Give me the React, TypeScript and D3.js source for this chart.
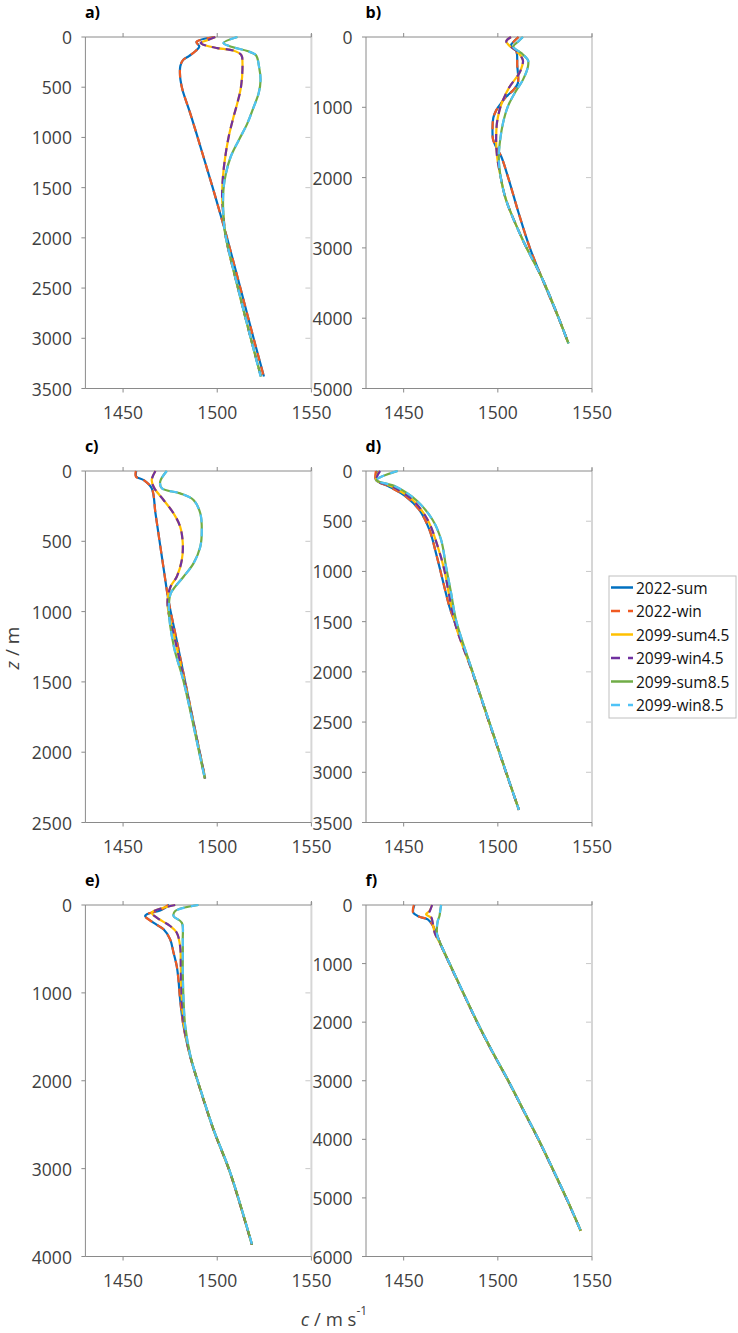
import React from 'react';
import * as d3 from 'd3';

type Pt = [number, number]; // [depth z (m), sound speed c (m/s)]

// ---------- series names ----------
const seriesNames = ['2022-sum', '2022-win', '2099-sum4.5', '2099-win4.5', '2099-sum8.5', '2099-win8.5'];
const panelLabels = ['a)', 'b)', 'c)', 'd)', 'e)', 'f)'];
const xDomain = [1430, 1550];
const xTickValues = [1450, 1500, 1550];
const depthMax = [3500, 5000, 2500, 3500, 4000, 6000];
const depthStep = [500, 1000, 500, 500, 1000, 1000];

// ---------- panel a ----------
const a22s: Pt[] = [[0,1498.5],[50,1489],[95,1490.5],[140,1488.5],[190,1485],[230,1481.8],[290,1480.4],[360,1480.2],[430,1480.5],[530,1481.6],[750,1485.5],[1000,1489.6],[1250,1493.6],[1500,1497.6],[1800,1502.2],[2000,1505.2],[2500,1512.3],[3000,1519.3],[3380,1524.8]];
const a22w: Pt[] = [[0,1498.5],[50,1489],[95,1490.5],[140,1488.5],[190,1485],[230,1481.8],[290,1480.4],[360,1480.2],[430,1480.5],[530,1481.6],[750,1485.5],[1000,1489.6],[1250,1493.6],[1500,1497.6],[1800,1502.2],[2000,1505.2],[2500,1512.3],[3000,1519.3],[3380,1524.7]];
const a45s: Pt[] = [[0,1499],[30,1495],[60,1491.2],[85,1494],[110,1500],[135,1508.5],[180,1512.8],[260,1513.4],[500,1512.6],[650,1510.8],[800,1508.6],[1000,1506],[1200,1504.2],[1400,1503],[1600,1502.6],[1800,1503.4],[2000,1504.6],[2500,1511],[3000,1517.8],[3380,1523.2]];
const a45w: Pt[] = [[0,1499],[30,1495],[60,1491.2],[85,1494],[110,1500],[135,1508.5],[180,1512.8],[260,1513.4],[500,1512.6],[650,1510.8],[800,1508.6],[1000,1506],[1200,1504.2],[1400,1503],[1600,1502.6],[1800,1503.4],[2000,1504.6],[2500,1511],[3000,1517.8],[3380,1523.2]];
const a85s: Pt[] = [[0,1510.7],[60,1503.3],[100,1508],[140,1516],[180,1520.5],[295,1522.2],[430,1523],[560,1522],[690,1519.5],[860,1516],[1025,1511.5],[1190,1507.2],[1360,1504.6],[1520,1503.3],[1750,1503.2],[1955,1504.2],[2500,1511],[3000,1517.8],[3380,1523.2]];
const a85w: Pt[] = [[0,1510.7],[60,1503.3],[100,1508],[140,1516],[180,1520.5],[295,1522.2],[430,1523],[560,1522],[690,1519.5],[860,1516],[1025,1511.5],[1190,1507.2],[1360,1504.6],[1520,1503.3],[1750,1503.2],[1955,1504.2],[2500,1511],[3000,1517.8],[3380,1523]];

// ---------- panel b ----------
const b22s: Pt[] = [[0,1511],[50,1509],[120,1507],[200,1509.8],[400,1510.3],[660,1510.6],[760,1508],[850,1504.4],[950,1501.5],[1040,1499.2],[1150,1497.6],[1280,1497.2],[1450,1497.4],[1560,1499],[1700,1501.8],[2000,1505.5],[2500,1511],[3000,1517],[3500,1524.5],[4000,1532.3],[4359,1537.5]];
const b22w: Pt[] = [[0,1511],[50,1509],[120,1507],[200,1509.8],[400,1510.3],[660,1510.6],[760,1508],[850,1504.4],[950,1501.5],[1040,1499.2],[1150,1497.6],[1280,1497.2],[1450,1497.4],[1560,1499],[1700,1501.8],[2000,1505.5],[2500,1511],[3000,1517],[3500,1524.5],[4000,1532.3],[4359,1537.5]];
const b45s: Pt[] = [[0,1507],[60,1504.5],[120,1506],[200,1510],[330,1513.3],[420,1512.8],[520,1511.3],[710,1506.2],[900,1502.7],[1040,1500.9],[1230,1499.5],[1470,1499.1],[1700,1499.6],[2030,1501.8],[2320,1504.4],[2890,1513.3],[3460,1524],[4030,1532.8],[4359,1537.5]];
const b45w: Pt[] = [[0,1507],[60,1504.5],[120,1506],[200,1510],[330,1513.3],[420,1512.8],[520,1511.3],[710,1506.2],[900,1502.7],[1040,1500.9],[1230,1499.5],[1470,1499.1],[1700,1499.6],[2030,1501.8],[2320,1504.4],[2890,1513.3],[3460,1524],[4030,1532.8],[4359,1537.5]];
const b85s: Pt[] = [[0,1513.3],[60,1511],[140,1508.2],[230,1512.5],[330,1516],[420,1516],[610,1513.3],[800,1508.9],[990,1505.3],[1230,1502.7],[1470,1501.2],[1700,1500.5],[1940,1501.2],[2320,1504.4],[2890,1513.3],[3460,1524],[4030,1532.8],[4359,1537.5]];
const b85w: Pt[] = [[0,1513.3],[60,1511],[140,1508.2],[230,1512.5],[330,1516],[420,1516],[610,1513.3],[800,1508.9],[990,1505.3],[1230,1502.7],[1470,1501.2],[1700,1500.5],[1940,1501.2],[2320,1504.4],[2890,1513.3],[3460,1524],[4030,1532.8],[4359,1537.5]];

// ---------- panel c ----------
const c22s: Pt[] = [[0,1457],[40,1457],[65,1461],[123,1465.2],[300,1467.2],[500,1469.4],[700,1471.6],[918,1474.1],[1200,1478.4],[1500,1483],[1800,1487.6],[2000,1490.7],[2187,1493.6]];
const c22w: Pt[] = [[0,1456.8],[40,1456.8],[65,1461],[123,1465.2],[300,1467.2],[500,1469.4],[700,1471.6],[918,1474.1],[1200,1478.4],[1500,1483],[1800,1487.6],[2000,1490.7],[2187,1493.6]];
const c45s: Pt[] = [[0,1467.2],[64,1465.2],[120,1466.5],[206,1471.5],[301,1476.8],[396,1480.3],[515,1481.7],[633,1481.2],[752,1478.5],[823,1475.2],[918,1473.6],[1013,1474.2],[1200,1477.6],[1500,1482.6],[2000,1490.6],[2187,1493.5]];
const c45w: Pt[] = [[0,1467.2],[64,1465.2],[120,1466.5],[206,1471.5],[301,1476.8],[396,1480.3],[515,1481.7],[633,1481.2],[752,1478.5],[823,1475.2],[918,1473.6],[1013,1474.2],[1200,1477.6],[1500,1482.6],[2000,1490.6],[2187,1493.5]];
const c85s: Pt[] = [[0,1473.2],[76,1469.7],[123,1470.6],[159,1480.3],[206,1487.4],[301,1491],[420,1491.8],[539,1491],[657,1487.4],[752,1482.1],[823,1477.7],[871,1475.3],[989,1474.3],[1250,1477],[1500,1482.2],[2000,1490.4],[2187,1493.4]];
const c85w: Pt[] = [[0,1473.2],[76,1469.7],[123,1470.6],[159,1480.3],[206,1487.4],[301,1491],[420,1491.8],[539,1491],[657,1487.4],[752,1482.1],[823,1477.7],[871,1475.3],[989,1474.3],[1250,1477],[1500,1482.2],[2000,1490.4],[2187,1493.4]];

// ---------- panel d ----------
const d22s: Pt[] = [[0,1436],[90,1435.3],[156,1442.4],[255,1451.2],[388,1458.3],[587,1463.7],[820,1467.2],[1085,1470.7],[1351,1474.3],[1500,1477],[2000,1486.5],[2500,1495.4],[3000,1504.4],[3375,1511.2]];
const d22w: Pt[] = [[0,1435.3],[90,1435.3],[156,1442.4],[255,1451.2],[388,1458.3],[587,1463.7],[820,1467.2],[1085,1470.7],[1351,1474.3],[1500,1477],[2000,1486.5],[2500,1495.4],[3000,1504.4],[3375,1511.2]];
const d45s: Pt[] = [[0,1437],[90,1435.5],[156,1444],[289,1454.8],[488,1462.8],[753,1468.1],[986,1471.6],[1251,1474.3],[1550,1477.8],[2000,1486.4],[2500,1495.3],[3000,1504.3],[3375,1511.2]];
const d45w: Pt[] = [[0,1437.5],[90,1435.5],[156,1444],[289,1454.8],[488,1462.8],[753,1468.1],[986,1471.6],[1251,1474.3],[1550,1477.8],[2000,1486.4],[2500,1495.3],[3000,1504.3],[3375,1511.2]];
const d85s: Pt[] = [[0,1446.8],[90,1435.6],[156,1445.9],[289,1456.6],[488,1465.4],[687,1469.9],[952,1472.5],[1218,1475.2],[1484,1477.8],[2000,1486.6],[2500,1495.5],[3000,1504.4],[3375,1511.2]];
const d85w: Pt[] = [[0,1446.8],[90,1435.6],[156,1445.9],[289,1456.6],[488,1465.4],[687,1469.9],[952,1472.5],[1218,1475.2],[1484,1477.8],[2000,1486.6],[2500,1495.5],[3000,1504.4],[3375,1511.2]];

// ---------- panel e ----------
const e22s: Pt[] = [[0,1474.5],[60,1470],[106,1462.6],[125,1461.7],[201,1466.1],[277,1471.5],[391,1475],[543,1476.8],[695,1478.5],[847,1479.4],[1075,1480.3],[1379,1482.1],[1720,1485.6],[2100,1491],[2556,1498],[3050,1506.9],[3866,1518.4]];
const e22w: Pt[] = [[0,1474],[60,1469.5],[106,1462.2],[125,1461.5],[201,1466.1],[277,1471.5],[391,1475],[543,1476.8],[695,1478.5],[847,1479.4],[1075,1480.3],[1379,1482.1],[1720,1485.6],[2100,1491],[2556,1498],[3050,1506.9],[3866,1518.4]];
const e45s: Pt[] = [[0,1477.7],[87,1465.2],[144,1467.9],[239,1475],[315,1478.5],[467,1480.3],[771,1480.7],[1075,1481.2],[1379,1482.4],[1720,1485.7],[2100,1491],[2556,1498],[3050,1506.9],[3866,1518.4]];
const e45w: Pt[] = [[0,1477.7],[87,1465.2],[144,1467.9],[239,1475],[315,1478.5],[467,1480.3],[771,1480.7],[1075,1481.2],[1379,1482.4],[1720,1485.7],[2100,1491],[2556,1498],[3050,1506.9],[3866,1518.4]];
const e85s: Pt[] = [[0,1490],[68,1477.7],[125,1476.8],[201,1481.2],[391,1481.7],[771,1481.7],[1075,1482.1],[1379,1483],[1720,1485.8],[2100,1491.1],[2556,1498.1],[3050,1507],[3866,1518.5]];
const e85w: Pt[] = [[0,1490],[68,1477.7],[125,1476.8],[201,1481.2],[391,1481.7],[771,1481.7],[1075,1482.1],[1379,1483],[1720,1485.8],[2100,1491.1],[2556,1498.1],[3050,1507],[3866,1518.5]];

// ---------- panel f ----------
const f22s: Pt[] = [[0,1455.7],[131,1455.1],[200,1458.3],[245,1462.8],[331,1465.1],[474,1467.2],[700,1470],[1000,1474.3],[1500,1481.6],[2000,1489],[2500,1497],[3000,1505.5],[3500,1513.5],[4000,1521.5],[4500,1529],[5000,1536.3],[5560,1544]];
const f22w: Pt[] = [[0,1455.4],[131,1455],[200,1458.3],[245,1462.8],[331,1465.1],[474,1467.2],[700,1470],[1000,1474.3],[1500,1481.6],[2000,1489],[2500,1497],[3000,1505.5],[3500,1513.5],[4000,1521.5],[4500,1529],[5000,1536.3],[5560,1544]];
const f45s: Pt[] = [[0,1465.1],[103,1463.7],[160,1461.9],[217,1464.5],[303,1465.4],[474,1466.5],[700,1470],[1000,1474.3],[1500,1481.6],[2000,1489],[2500,1497],[3000,1505.5],[3500,1513.5],[4000,1521.5],[4500,1529],[5000,1536.3],[5560,1544]];
const f45w: Pt[] = [[0,1465.1],[103,1463.9],[160,1463],[217,1464.8],[303,1465.4],[474,1466.5],[700,1470],[1000,1474.3],[1500,1481.6],[2000,1489],[2500,1497],[3000,1505.5],[3500,1513.5],[4000,1521.5],[4500,1529],[5000,1536.3],[5560,1544]];
const f85s: Pt[] = [[0,1469.9],[100,1469.4],[188,1469],[274,1468.1],[417,1467.6],[531,1467.9],[700,1470.1],[1000,1474.4],[1500,1481.7],[2000,1489.1],[2500,1497.1],[3000,1505.6],[3500,1513.6],[4000,1521.6],[4500,1529.1],[5000,1536.4],[5560,1544]];
const f85w: Pt[] = [[0,1469.9],[100,1469.4],[188,1469],[274,1468.1],[417,1467.6],[531,1467.9],[700,1470.1],[1000,1474.4],[1500,1481.7],[2000,1489.1],[2500,1497.1],[3000,1505.6],[3500,1513.6],[4000,1521.6],[4500,1529.1],[5000,1536.4],[5560,1544]];

const panelData: Pt[][][] = [
  [a22s, a22w, a45s, a45w, a85s, a85w],
  [b22s, b22w, b45s, b45w, b85s, b85w],
  [c22s, c22w, c45s, c45w, c85s, c85w],
  [d22s, d22w, d45s, d45w, d85s, d85w],
  [e22s, e22w, e45s, e45w, e85s, e85w],
  [f22s, f22w, f45s, f45w, f85s, f85w],
];

// ---------- styles ----------
const seriesColors = ['#0070C0', '#F05A22', '#FFC000', '#7030A0', '#70AD47', '#4FC3F7'];
const seriesDash = [null, '8 6', null, '8 6', null, '8 6'];
const FONT = '"Open Sans", "DejaVu Sans", sans-serif';
const TEXT = '#404040';
const AXIS = '#8a8a8a';

const W = 738, H = 1333;
const colX = [85.4, 366];
const rowY = [37, 471, 905];
const PW = 226, PH = 351.5;

function Panel({ idx }: { idx: number }) {
  const col = idx % 2, row = Math.floor(idx / 2);
  const x0 = colX[col], y0 = rowY[row];
  const x = d3.scaleLinear().domain(xDomain).range([x0, x0 + PW]);
  const y = d3.scaleLinear().domain([0, depthMax[idx]]).range([y0, y0 + PH]);
  const yTicks = d3.range(0, depthMax[idx] + 1, depthStep[idx]);
  const line = d3.line<Pt>().x(d => x(d[1])).y(d => y(d[0])).curve(d3.curveCatmullRom.alpha(0.5));
  const xr = x0 + PW, yb = y0 + PH;
  return (
    <g>
      {/* right light border with inner ticks */}
      <line x1={xr} x2={xr} y1={y0 - 3} y2={yb} stroke="#d6d6d6" strokeWidth={2} />
      {yTicks.slice(1, -1).map(t => (
        <line key={'r' + t} x1={xr - 6} x2={xr - 1} y1={y(t)} y2={y(t)} stroke="#c8c8c8" strokeWidth={1} />
      ))}
      {/* top and bottom axes */}
      <line x1={x0} x2={xr} y1={y0} y2={y0} stroke={AXIS} strokeWidth={1} />
      <line x1={x0} x2={xr} y1={yb} y2={yb} stroke={AXIS} strokeWidth={1} />
      {xTickValues.map(t => (
        <g key={'x' + t}>
          <line x1={x(t)} x2={x(t)} y1={y0} y2={y0 - 4} stroke={AXIS} />
          <line x1={x(t)} x2={x(t)} y1={yb} y2={yb + 4} stroke={AXIS} />
          <text x={x(t)} y={yb + 23} textAnchor="middle" dominantBaseline="central"
            fontFamily={FONT} fontSize={17.5} fill={TEXT}>{t}</text>
        </g>
      ))}
      {/* left axis */}
      <line x1={x0} x2={x0} y1={y0} y2={yb} stroke={AXIS} strokeWidth={1} />
      {yTicks.map(t => (
        <g key={'y' + t}>
          <line x1={x0 - 4} x2={x0} y1={y(t)} y2={y(t)} stroke={AXIS} />
          <text x={x0 - 13.5} y={y(t)} textAnchor="end" dominantBaseline="central"
            fontFamily={FONT} fontSize={17.5} fill={TEXT}>{t}</text>
        </g>
      ))}
      {/* series */}
      {panelData[idx].map((pts, i) => (
        <path key={i} d={line(pts) || ''} fill="none" stroke={seriesColors[i]} strokeWidth={2.2}
          strokeDasharray={seriesDash[i] || undefined} strokeLinejoin="round" />
      ))}
      <text x={x0 - 0.5} y={y0 - 25} dominantBaseline="central" fontFamily={FONT}
        fontWeight="bold" fontSize={16} fill="#000">{panelLabels[idx]}</text>
    </g>
  );
}

function Legend() {
  const lx = 609, ly = 576, lw = 127, lh = 142;
  return (
    <g>
      <rect x={lx} y={ly} width={lw} height={lh} fill="#fff" stroke="#c0c0c0" strokeWidth={1} />
      {seriesNames.map((n, i) => {
        const cy = 587.5 + i * 23.5;
        return (
          <g key={n}>
            <line x1={611} x2={633} y1={cy} y2={cy} stroke={seriesColors[i]} strokeWidth={2.5}
              strokeDasharray={seriesDash[i] ? '9 8' : undefined} />
            <text x={636} y={cy} dominantBaseline="central" fontFamily={FONT} fontSize={15.5} fill="#111">{n}</text>
          </g>
        );
      })}
    </g>
  );
}

export default function App() {
  return (
    <svg width={W} height={H} style={{ position: 'absolute', left: 0, top: 0, display: 'block', background: '#fff' }}>
      <rect x={0} y={0} width={W} height={H} fill="#fff" />
      {d3.range(6).map(i => <Panel key={i} idx={i} />)}
      <Legend />
      <text transform="translate(12,648) rotate(-90)" textAnchor="middle" dominantBaseline="central"
        fontFamily={FONT} fontSize={19} fill={TEXT}>
        <tspan fontStyle="italic">z</tspan> / m
      </text>
      <text x={334} y={1318} textAnchor="middle" dominantBaseline="central" fontFamily={FONT} fontSize={18.5} fill={TEXT}>
        <tspan fontStyle="italic">c</tspan> / m s<tspan fontSize={12} dy={-8}>-1</tspan>
      </text>
    </svg>
  );
}
